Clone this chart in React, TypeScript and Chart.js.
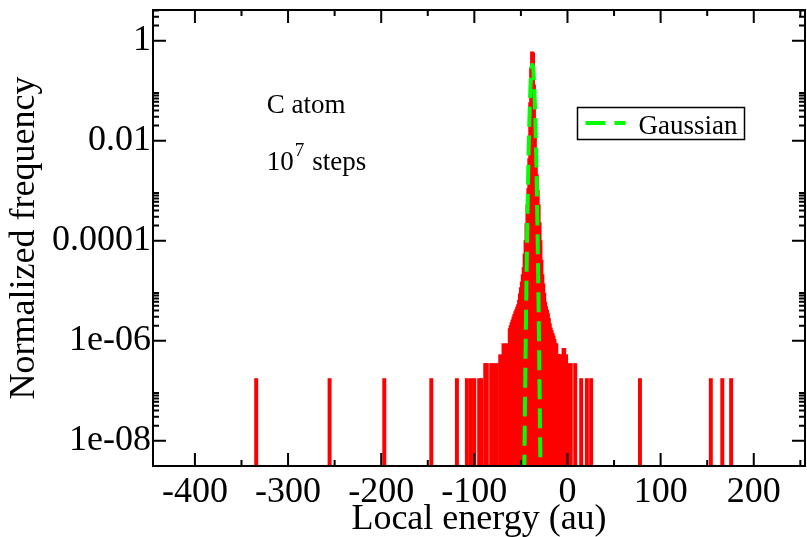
import React, { useEffect, useRef } from "react";
import { Chart, registerables } from "chart.js";

Chart.register(...registerables);

const FONT = "'Liberation Serif', 'Times New Roman', 'DejaVu Serif', serif";

// Histogram: bin centres (au) and normalized frequency
const binCenters = [
  -334.2, -255.4, -196.7, -146.2, -118.7, -108, -103.7, -100.1, -94.8, -92.5,
  -88.3, -86.6, -81.9, -79.4, -75.9, -72.2, -68.7, -65.1, -62, -61,
  -60, -59, -58, -57, -56, -55, -54, -53, -52, -51,
  -50, -49, -48, -47, -46, -45, -44, -43, -42, -41,
  -40, -39, -38, -37, -36, -35, -34, -33, -32, -31,
  -30, -29, -28, -27, -26, -25, -24, -23, -22, -21,
  -20, -19, -18, -17, -16, -15, -14, -13, -12, -11,
  -10, -9, -8, -4.2, -3.5, -1.5, 1.5, 3.5, 8.3, 14.7,
  20.8, 25.4, 77.8, 153.9, 166.2, 175.7,
];
const binFreq = [
  1.75e-7, 1.75e-7, 1.75e-7, 1.75e-7, 1.75e-7, 1.75e-7, 1.75e-7, 1.75e-7, 1.75e-7, 1.75e-7,
  3.5e-7, 3.5e-7, 3.5e-7, 3.5e-7, 3.5e-7, 5.25e-7, 8.75e-7, 8.75e-7, 1.75e-6, 2.0e-6,
  2.3e-6, 2.6e-6, 3.0e-6, 3.35e-6, 3.8e-6, 4.2e-6, 4.7e-6, 5.3e-6, 6.5e-6, 8.7e-6,
  1.15e-5, 1.5e-5, 2.1e-5, 2.9e-5, 5.4e-5, 1.0e-4, 2.2e-4, 5.2e-4, 1.1e-3, 4.4e-3,
  0.058, 0.29, 0.6, 0.57, 0.13, 0.022, 5.7e-3, 2.1e-3, 1.03e-3, 5.2e-4,
  2.3e-4, 1.0e-4, 4.1e-5, 2.1e-5, 1.37e-5, 9.0e-6, 5.9e-6, 4.8e-6, 4.1e-6, 3.5e-6,
  2.8e-6, 2.2e-6, 1.8e-6, 1.6e-6, 1.4e-6, 1.25e-6, 1.07e-6, 8.75e-7, 8.75e-7, 5.25e-7,
  5.25e-7, 5.25e-7, 5.25e-7, 7.0e-7, 7.0e-7, 5.25e-7, 3.5e-7, 3.5e-7, 3.5e-7, 1.75e-7,
  1.75e-7, 1.75e-7, 1.75e-7, 1.75e-7, 1.75e-7, 1.75e-7,
];

// Gaussian fit (dashed green)
const gaussX = [
  -46.7, -46.2, -45.7, -45.2, -44.7, -44.2, -43.7, -43.2, -42.7, -42.2,
  -41.7, -41.2, -40.7, -40.2, -39.7, -39.2, -38.7, -38.2, -37.7, -37.2,
  -36.7, -36.2, -35.7, -35.2, -34.7, -34.2, -33.7, -33.2, -32.7, -32.2,
  -31.7, -31.2, -30.7, -30.2, -29.7, -29.2, -28.7,
];
const gaussY = [
  5.5e-10, 4.9e-9, 3.8e-8, 2.65e-7, 1.6e-6, 8.7e-6, 4.1e-5, 1.74e-4, 6.5e-4, 2.1e-3,
  6.1e-3, 0.0156, 0.035, 0.0695, 0.122, 0.189, 0.258, 0.311, 0.331, 0.311,
  0.258, 0.189, 0.122, 0.0695, 0.035, 0.0156, 6.1e-3, 2.1e-3, 6.5e-4, 1.74e-4,
  4.1e-5, 8.7e-6, 1.6e-6, 2.65e-7, 3.8e-8, 4.9e-9, 5.5e-10,
];

const xMajorTicks = [-400, -300, -200, -100, 0, 100, 200];
const xMinorTicks = [-350, -250, -150, -50, 50, 150, 250];
const yTickValues = [1, 0.01, 0.0001, 1e-6, 1e-8];
const yTickLabels = ["1", "0.01", "0.0001", "1e-06", "1e-08"];
const yMinorMultipliers = [2, 3, 4, 5, 6, 7, 8, 9];

const X_MIN = -445;
const X_MAX = 255;
const Y_MIN = 3.12e-9;
const Y_MAX = 4.1;

const framePlugin = {
  id: "frameAndText",
  afterDatasetsDraw(chart: any) {
    const { ctx, chartArea: ca, scales } = chart;
    const xs = scales.x;
    const ys = scales.y;
    ctx.save();
    ctx.strokeStyle = "#000";
    ctx.lineWidth = 2;
    ctx.lineCap = "butt";
    ctx.setLineDash([]);
    ctx.strokeRect(ca.left, ca.top, ca.right - ca.left, ca.bottom - ca.top);

    const xTick = (v: number, len: number) => {
      const p = xs.getPixelForValue(v);
      if (p < ca.left || p > ca.right) return;
      ctx.beginPath();
      ctx.moveTo(p, ca.bottom);
      ctx.lineTo(p, ca.bottom - len);
      ctx.moveTo(p, ca.top);
      ctx.lineTo(p, ca.top + len);
      ctx.stroke();
    };
    const yTick = (v: number, len: number) => {
      if (v < Y_MIN || v > Y_MAX) return;
      const p = ys.getPixelForValue(v);
      ctx.beginPath();
      ctx.moveTo(ca.left, p);
      ctx.lineTo(ca.left + len, p);
      ctx.moveTo(ca.right, p);
      ctx.lineTo(ca.right - len, p);
      ctx.stroke();
    };
    xMajorTicks.forEach((v) => xTick(v, 13));
    xMinorTicks.forEach((v) => xTick(v, 6));
    yTickValues.forEach((v) => {
      yTick(v, 13);
      yMinorMultipliers.forEach((k) => yTick(v * k, 6));
    });

    // annotations
    ctx.fillStyle = "#000";
    ctx.textBaseline = "alphabetic";
    ctx.textAlign = "left";
    ctx.font = `27px ${FONT}`;
    const ax = xs.getPixelForValue(-323);
    ctx.fillText("C atom", ax, ys.getPixelForValue(0.0358));
    const by = ys.getPixelForValue(2.6e-3);
    ctx.fillText("10", ax, by);
    const w10 = ctx.measureText("10").width;
    ctx.font = `19px ${FONT}`;
    ctx.fillText("7", ax + w10 + 1, by - 14);
    const w7 = ctx.measureText("7").width;
    ctx.font = `27px ${FONT}`;
    ctx.fillText("steps", ax + w10 + w7 + 9, by);

    // legend
    const ds = chart.data.datasets[0];
    const lx = ca.left + 424.5;
    const ly = ca.top + 97.5;
    ctx.lineWidth = 1.5;
    ctx.strokeRect(lx, ly, 167, 32);
    ctx.strokeStyle = ds.borderColor;
    ctx.lineWidth = ds.borderWidth;
    ctx.setLineDash(ds.borderDash);
    ctx.beginPath();
    ctx.moveTo(lx + 8, ly + 15.5);
    ctx.lineTo(lx + 48, ly + 15.5);
    ctx.stroke();
    ctx.setLineDash([]);
    ctx.fillStyle = "#000";
    ctx.font = `27px ${FONT}`;
    ctx.fillText(ds.label, lx + 61, ly + 26);
    ctx.restore();
  },
};

export default function App() {
  const ref = useRef<HTMLCanvasElement | null>(null);
  useEffect(() => {
    document.body.style.margin = "0";
    const canvas = ref.current;
    if (!canvas) return;
    const chart = new Chart(canvas, {
      type: "bar",
      data: {
        datasets: [
          {
            type: "line",
            label: "Gaussian",
            data: gaussX.map((x, i) => ({ x, y: gaussY[i] })),
            borderColor: "#00ff00",
            borderWidth: 4,
            borderDash: [20, 9],
            pointRadius: 0,
            fill: false,
            tension: 0.3,
            order: 1,
            clip: 0,
          } as any,
          {
            type: "bar",
            label: "Histogram",
            data: binCenters.map((x, i) => ({ x, y: binFreq[i] })),
            backgroundColor: "#ff0000",
            borderWidth: 0,
            barThickness: 3.3,
            order: 2,
          } as any,
        ],
      },
      options: {
        animation: false,
        responsive: false,
        devicePixelRatio: 1,
        layout: { padding: { top: 10, right: 2, left: 0, bottom: 0 } },
        plugins: { legend: { display: false }, tooltip: { enabled: false } },
        scales: {
          x: {
            type: "linear",
            min: X_MIN,
            max: X_MAX,
            offset: false,
            grid: { display: false, drawTicks: false, tickLength: 0 },
            border: { display: false },
            afterBuildTicks: (s: any) => {
              s.ticks = xMajorTicks.map((v) => ({ value: v }));
            },
            afterFit: (s: any) => {
              s.height = 71;
              s.paddingLeft = 0;
              s.paddingRight = 0;
              s.paddingTop = 0;
              s.paddingBottom = 0;
            },
            ticks: {
              font: { family: FONT, size: 36 },
              color: "#000",
              padding: 5,
              maxRotation: 0,
              autoSkip: false,
              callback: (v: any) => String(v),
            },
            title: {
              display: true,
              text: "Local energy (au)",
              color: "#000",
              font: { family: FONT, size: 36 },
              padding: { top: 0, bottom: -4 },
            },
          },
          y: {
            type: "logarithmic",
            min: Y_MIN,
            max: Y_MAX,
            grid: { display: false, drawTicks: false, tickLength: 0 },
            border: { display: false },
            afterBuildTicks: (s: any) => {
              s.ticks = yTickValues.map((v) => ({ value: v }));
            },
            afterFit: (s: any) => {
              s.width = 153;
              s.paddingLeft = 0;
              s.paddingRight = 0;
              s.paddingTop = 0;
              s.paddingBottom = 0;
            },
            ticks: {
              font: { family: FONT, size: 36 },
              color: "#000",
              padding: 2,
              autoSkip: false,
              callback: (v: any) => {
                const i = yTickValues.findIndex((t) => Math.abs(t - v) <= t * 1e-6);
                return i >= 0 ? yTickLabels[i] : "";
              },
            },
            title: {
              display: true,
              text: "Normalized frequency",
              color: "#000",
              font: { family: FONT, size: 36 },
              padding: { top: 3, bottom: 0 },
            },
          },
        },
      } as any,
      plugins: [framePlugin],
    });
    return () => chart.destroy();
  }, []);
  return (
    <canvas
      ref={ref}
      width={807}
      height={537}
      style={{ display: "block", width: 807, height: 537 }}
    />
  );
}
